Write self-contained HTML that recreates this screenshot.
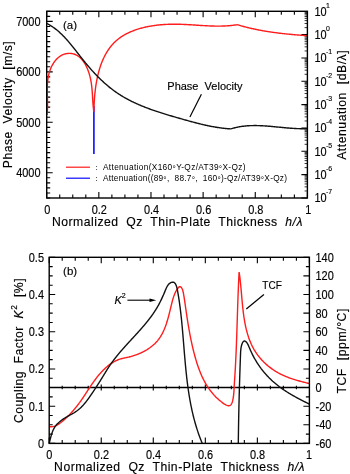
<!DOCTYPE html>
<html><head><meta charset="utf-8"><style>
html,body{margin:0;padding:0;background:#fff;width:350px;height:474px;overflow:hidden}
svg{display:block;will-change:transform}
text{font-family:"Liberation Sans", sans-serif;fill:#000;stroke:#000;stroke-width:0.15px}
</style></head><body>
<svg width="350" height="474" viewBox="0 0 350 474">
<rect width="350" height="474" fill="#fff"/>
<path d="M46.70 198.00L46.70 192.00M46.70 11.30L46.70 17.30M59.73 198.00L59.73 194.50M59.73 11.30L59.73 14.80M72.77 198.00L72.77 194.50M72.77 11.30L72.77 14.80M85.81 198.00L85.81 194.50M85.81 11.30L85.81 14.80M98.84 198.00L98.84 192.00M98.84 11.30L98.84 17.30M111.88 198.00L111.88 194.50M111.88 11.30L111.88 14.80M124.91 198.00L124.91 194.50M124.91 11.30L124.91 14.80M137.94 198.00L137.94 194.50M137.94 11.30L137.94 14.80M150.98 198.00L150.98 192.00M150.98 11.30L150.98 17.30M164.01 198.00L164.01 194.50M164.01 11.30L164.01 14.80M177.05 198.00L177.05 194.50M177.05 11.30L177.05 14.80M190.09 198.00L190.09 194.50M190.09 11.30L190.09 14.80M203.12 198.00L203.12 192.00M203.12 11.30L203.12 17.30M216.16 198.00L216.16 194.50M216.16 11.30L216.16 14.80M229.19 198.00L229.19 194.50M229.19 11.30L229.19 14.80M242.22 198.00L242.22 194.50M242.22 11.30L242.22 14.80M255.26 198.00L255.26 192.00M255.26 11.30L255.26 17.30M268.30 198.00L268.30 194.50M268.30 11.30L268.30 14.80M281.33 198.00L281.33 194.50M281.33 11.30L281.33 14.80M294.37 198.00L294.37 194.50M294.37 11.30L294.37 14.80M307.40 198.00L307.40 192.00M307.40 11.30L307.40 17.30M46.70 198.00L50.20 198.00M46.70 192.95L50.20 192.95M46.70 187.91L50.20 187.91M46.70 182.86L50.20 182.86M46.70 177.82L50.20 177.82M46.70 172.77L52.70 172.77M46.70 167.72L50.20 167.72M46.70 162.68L50.20 162.68M46.70 157.63L50.20 157.63M46.70 152.59L50.20 152.59M46.70 147.54L50.20 147.54M46.70 142.49L50.20 142.49M46.70 137.45L50.20 137.45M46.70 132.40L50.20 132.40M46.70 127.36L50.20 127.36M46.70 122.31L52.70 122.31M46.70 117.26L50.20 117.26M46.70 112.22L50.20 112.22M46.70 107.17L50.20 107.17M46.70 102.13L50.20 102.13M46.70 97.08L50.20 97.08M46.70 92.04L50.20 92.04M46.70 86.99L50.20 86.99M46.70 81.94L50.20 81.94M46.70 76.90L50.20 76.90M46.70 71.85L52.70 71.85M46.70 66.81L50.20 66.81M46.70 61.76L50.20 61.76M46.70 56.71L50.20 56.71M46.70 51.67L50.20 51.67M46.70 46.62L50.20 46.62M46.70 41.58L50.20 41.58M46.70 36.53L50.20 36.53M46.70 31.48L50.20 31.48M46.70 26.44L50.20 26.44M46.70 21.39L52.70 21.39M46.70 16.35L50.20 16.35M46.70 11.30L50.20 11.30M307.40 198.00L301.40 198.00M307.40 174.66L301.40 174.66M307.40 151.32L301.40 151.32M307.40 127.99L301.40 127.99M307.40 104.65L301.40 104.65M307.40 81.31L301.40 81.31M307.40 57.98L301.40 57.98M307.40 34.64L301.40 34.64" stroke="#000" stroke-width="1.1" fill="none"/>
<path d="M307.40 190.97L304.60 190.97M307.40 186.87L304.60 186.87M307.40 183.95L304.60 183.95M307.40 181.69L304.60 181.69M307.40 179.84L304.60 179.84M307.40 178.28L304.60 178.28M307.40 176.92L304.60 176.92M307.40 175.73L304.60 175.73M307.40 167.64L304.60 167.64M307.40 163.53L304.60 163.53M307.40 160.61L304.60 160.61M307.40 158.35L304.60 158.35M307.40 156.50L304.60 156.50M307.40 154.94L304.60 154.94M307.40 153.59L304.60 153.59M307.40 152.39L304.60 152.39M307.40 144.30L304.60 144.30M307.40 140.19L304.60 140.19M307.40 137.27L304.60 137.27M307.40 135.01L304.60 135.01M307.40 133.16L304.60 133.16M307.40 131.60L304.60 131.60M307.40 130.25L304.60 130.25M307.40 129.06L304.60 129.06M307.40 120.96L304.60 120.96M307.40 116.85L304.60 116.85M307.40 113.94L304.60 113.94M307.40 111.68L304.60 111.68M307.40 109.83L304.60 109.83M307.40 108.27L304.60 108.27M307.40 106.91L304.60 106.91M307.40 105.72L304.60 105.72M307.40 97.62L304.60 97.62M307.40 93.52L304.60 93.52M307.40 90.60L304.60 90.60M307.40 88.34L304.60 88.34M307.40 86.49L304.60 86.49M307.40 84.93L304.60 84.93M307.40 83.57L304.60 83.57M307.40 82.38L304.60 82.38M307.40 74.29L304.60 74.29M307.40 70.18L304.60 70.18M307.40 67.26L304.60 67.26M307.40 65.00L304.60 65.00M307.40 63.15L304.60 63.15M307.40 61.59L304.60 61.59M307.40 60.24L304.60 60.24M307.40 59.04L304.60 59.04M307.40 50.95L304.60 50.95M307.40 46.84L304.60 46.84M307.40 43.92L304.60 43.92M307.40 41.66L304.60 41.66M307.40 39.81L304.60 39.81M307.40 38.25L304.60 38.25M307.40 36.90L304.60 36.90M307.40 35.71L304.60 35.71M307.40 27.61L304.60 27.61M307.40 23.50L304.60 23.50M307.40 20.59L304.60 20.59M307.40 18.33L304.60 18.33M307.40 16.48L304.60 16.48M307.40 14.92L304.60 14.92M307.40 13.56L304.60 13.56M307.40 12.37L304.60 12.37" stroke="#000" stroke-width="0.8" fill="none"/>
<path d="M93.9 106 L93.9 154" stroke="#0a0aff" stroke-width="1.6" fill="none"/>
<path d="M46.90 115.00 L47.01 114.24 L47.10 113.49 L47.18 112.72 L47.26 111.95 L47.32 111.18 L47.37 110.41 L47.42 109.63 L47.45 108.84 L47.48 108.05 L47.50 107.26 L47.52 106.47 L47.52 105.67 L47.53 104.87 L47.53 104.06 L47.52 103.26 L47.51 102.45 L47.49 101.64 L47.48 100.82 L47.46 100.01 L47.44 99.19 L47.42 98.37 L47.39 97.55 L47.37 96.72 L47.35 95.90 L47.33 95.07 L47.31 94.24 L47.29 93.41 L47.28 92.59 L47.27 91.76 L47.26 90.93 L47.26 90.09 L47.26 89.26 L47.27 88.43 L47.28 87.60 L47.30 86.77 L47.33 85.94 L47.37 85.11 L47.41 84.28 L47.47 83.45 L47.53 82.63 L47.60 81.80 L47.68 80.98 L47.78 80.15 L47.88 79.33 L48.00 78.51 L48.13 77.69 L48.27 76.88 L48.43 76.06 L48.60 75.25 L48.79 74.44 L48.99 73.63 L49.21 72.83 L49.45 72.03 L49.70 71.23 L49.97 70.44 L50.26 69.65 L50.56 68.86 L50.89 68.08 L51.23 67.31 L51.59 66.55 L51.96 65.79 L52.36 65.05 L52.77 64.32 L53.20 63.60 L53.64 62.90 L54.10 62.22 L54.58 61.55 L55.08 60.90 L55.59 60.27 L56.12 59.66 L56.66 59.07 L57.22 58.51 L57.80 57.97 L58.39 57.45 L59.00 56.97 L59.62 56.51 L60.26 56.08 L60.92 55.68 L61.58 55.32 L62.27 54.98 L62.96 54.68 L63.66 54.41 L64.38 54.17 L65.10 53.96 L65.83 53.79 L66.56 53.64 L67.29 53.53 L68.03 53.46 L68.77 53.41 L69.51 53.40 L70.24 53.42 L70.97 53.47 L71.70 53.56 L72.42 53.68 L73.13 53.84 L73.84 54.02 L74.53 54.24 L75.21 54.50 L75.88 54.79 L76.53 55.11 L77.17 55.46 L77.79 55.85 L78.40 56.27 L79.00 56.71 L79.58 57.19 L80.14 57.69 L80.70 58.22 L81.23 58.77 L81.76 59.35 L82.27 59.95 L82.76 60.57 L83.24 61.21 L83.71 61.87 L84.16 62.55 L84.60 63.25 L85.03 63.96 L85.44 64.69 L85.84 65.43 L86.22 66.19 L86.59 66.96 L86.95 67.73 L87.30 68.52 L87.63 69.32 L87.95 70.12 L88.25 70.93 L88.54 71.75 L88.82 72.57 L89.08 73.39 L89.34 74.21 L89.57 75.04 L89.80 75.86 L90.01 76.69 L90.21 77.51 L90.40 78.33 L90.58 79.15 L90.75 79.96 L90.90 80.78 L91.05 81.59 L91.18 82.40 L91.31 83.21 L91.43 84.02 L91.54 84.83 L91.64 85.64 L91.73 86.45 L91.82 87.25 L91.90 88.05 L91.98 88.86 L92.05 89.66 L92.12 90.46 L92.18 91.26 L92.24 92.06 L92.29 92.86 L92.34 93.66 L92.39 94.45 L92.44 95.25 L92.49 96.05 L92.53 96.85 L92.58 97.64 L92.62 98.44 L92.67 99.23 L92.72 100.03 L92.77 100.83 L92.82 101.62 L92.87 102.42 L92.93 103.21 L92.99 104.01 L93.06 104.81 L93.12 105.60 L93.20 106.40 L93.28 107.20 L93.36 108.00 L93.46 108.80 L93.56 109.60 L93.66 110.40 L93.78 111.20 L93.90 112.00 M93.91 112.00 L93.92 111.24 L93.94 110.47 L93.95 109.70 L93.97 108.93 L93.99 108.16 L94.02 107.38 L94.04 106.60 L94.07 105.81 L94.10 105.02 L94.14 104.23 L94.18 103.44 L94.22 102.64 L94.26 101.84 L94.31 101.04 L94.36 100.23 L94.41 99.43 L94.46 98.62 L94.52 97.81 L94.59 97.00 L94.65 96.19 L94.72 95.37 L94.80 94.56 L94.88 93.74 L94.96 92.92 L95.04 92.11 L95.13 91.29 L95.23 90.47 L95.33 89.65 L95.43 88.83 L95.54 88.01 L95.65 87.19 L95.76 86.37 L95.88 85.55 L96.01 84.73 L96.14 83.91 L96.27 83.09 L96.41 82.28 L96.56 81.46 L96.71 80.65 L96.86 79.83 L97.02 79.02 L97.19 78.21 L97.36 77.40 L97.54 76.60 L97.72 75.79 L97.91 74.99 L98.10 74.19 L98.30 73.39 L98.50 72.60 L98.71 71.81 L98.93 71.02 L99.15 70.23 L99.38 69.45 L99.62 68.67 L99.86 67.89 L100.11 67.12 L100.36 66.35 L100.63 65.58 L100.89 64.82 L101.17 64.06 L101.45 63.31 L101.74 62.56 L102.03 61.82 L102.34 61.08 L102.65 60.34 L102.96 59.61 L103.29 58.89 L103.62 58.17 L103.96 57.45 L104.31 56.75 L104.66 56.04 L105.02 55.35 L105.39 54.65 L105.77 53.97 L106.15 53.29 L106.55 52.62 L106.95 51.95 L107.36 51.29 L107.78 50.64 L108.20 49.99 L108.64 49.36 L109.08 48.72 L109.53 48.10 L109.99 47.48 L110.46 46.87 L110.94 46.27 L111.43 45.68 L111.92 45.10 L112.43 44.52 L112.94 43.95 L113.46 43.39 L114.00 42.84 L114.54 42.30 L115.09 41.76 L115.65 41.24 L116.22 40.72 L116.80 40.21 L117.39 39.72 L117.99 39.23 L118.60 38.75 L119.22 38.28 L119.84 37.82 L120.48 37.37 L121.13 36.93 L121.78 36.50 L122.44 36.08 L123.11 35.67 L123.79 35.26 L124.47 34.87 L125.16 34.48 L125.86 34.10 L126.57 33.73 L127.28 33.37 L128.00 33.02 L128.73 32.67 L129.46 32.34 L130.19 32.01 L130.93 31.69 L131.68 31.38 L132.43 31.07 L133.19 30.78 L133.95 30.49 L134.72 30.21 L135.49 29.93 L136.26 29.67 L137.04 29.41 L137.82 29.16 L138.60 28.92 L139.39 28.68 L140.18 28.45 L140.97 28.23 L141.76 28.01 L142.56 27.81 L143.35 27.61 L144.15 27.41 L144.95 27.22 L145.76 27.04 L146.56 26.87 L147.36 26.70 L148.17 26.54 L148.98 26.38 L149.79 26.23 L150.60 26.09 L151.41 25.95 L152.22 25.82 L153.03 25.70 L153.85 25.58 L154.66 25.47 L155.48 25.36 L156.29 25.25 L157.11 25.16 L157.93 25.07 L158.74 24.98 L159.56 24.90 L160.38 24.82 L161.20 24.75 L162.02 24.68 L162.84 24.62 L163.65 24.56 L164.47 24.51 L165.29 24.46 L166.11 24.42 L166.93 24.38 L167.75 24.35 L168.57 24.32 L169.38 24.29 L170.20 24.27 L171.02 24.25 L171.84 24.24 L172.65 24.23 L173.47 24.22 L174.28 24.22 L175.09 24.22 L175.91 24.22 L176.72 24.23 L177.53 24.24 L178.34 24.26 L179.14 24.27 L179.95 24.29 L180.76 24.32 L181.56 24.34 L182.37 24.37 L183.17 24.40 L183.97 24.44 L184.77 24.47 L185.57 24.51 L186.37 24.55 L187.17 24.59 L187.96 24.64 L188.76 24.68 L189.56 24.73 L190.35 24.77 L191.14 24.82 L191.94 24.87 L192.73 24.92 L193.52 24.97 L194.32 25.02 L195.11 25.07 L195.90 25.13 L196.69 25.18 L197.48 25.23 L198.27 25.28 L199.06 25.33 L199.85 25.38 L200.64 25.43 L201.43 25.48 L202.21 25.53 L203.00 25.58 L203.79 25.63 L204.58 25.67 L205.37 25.72 L206.16 25.76 L206.94 25.80 L207.73 25.84 L208.52 25.87 L209.31 25.91 L210.10 25.94 L210.89 25.97 L211.68 26.00 L212.47 26.02 L213.26 26.05 L214.05 26.06 L214.84 26.08 L215.63 26.09 L216.42 26.10 L217.22 26.11 L218.01 26.11 L218.80 26.11 L219.60 26.10 L220.39 26.09 L221.19 26.08 L221.98 26.06 L222.78 26.04 L223.58 26.01 L224.38 25.98 L225.18 25.94 L225.98 25.90 L226.78 25.85 L227.58 25.80 L228.38 25.74 L229.19 25.68 L229.99 25.61 L230.80 25.53 L231.61 25.45 L232.42 25.36 L233.23 25.27 L234.04 25.17 L234.85 25.06 L235.67 24.95 L236.48 24.83 L237.30 24.70 M237.30 24.70 L238.08 24.94 L238.86 25.17 L239.65 25.40 L240.43 25.62 L241.22 25.85 L242.00 26.07 L242.79 26.28 L243.58 26.50 L244.36 26.71 L245.15 26.91 L245.94 27.11 L246.73 27.31 L247.52 27.51 L248.31 27.70 L249.11 27.90 L249.90 28.08 L250.69 28.27 L251.49 28.45 L252.28 28.63 L253.08 28.80 L253.87 28.98 L254.67 29.15 L255.47 29.31 L256.26 29.48 L257.06 29.64 L257.86 29.80 L258.66 29.95 L259.46 30.11 L260.26 30.26 L261.06 30.41 L261.86 30.55 L262.67 30.70 L263.47 30.84 L264.27 30.98 L265.07 31.11 L265.88 31.25 L266.68 31.38 L267.49 31.51 L268.29 31.63 L269.10 31.76 L269.90 31.88 L270.71 32.00 L271.52 32.12 L272.32 32.24 L273.13 32.35 L273.94 32.46 L274.75 32.57 L275.56 32.68 L276.36 32.78 L277.17 32.89 L277.98 32.99 L278.79 33.09 L279.60 33.19 L280.41 33.29 L281.22 33.38 L282.03 33.47 L282.84 33.57 L283.65 33.66 L284.46 33.74 L285.28 33.83 L286.09 33.92 L286.90 34.00 L287.71 34.08 L288.52 34.16 L289.33 34.24 L290.15 34.32 L290.96 34.40 L291.77 34.47 L292.58 34.55 L293.39 34.62 L294.21 34.69 L295.02 34.76 L295.83 34.83 L296.64 34.90 L297.46 34.97 L298.27 35.03 L299.08 35.10 L299.89 35.16 L300.70 35.22 L301.52 35.29 L302.33 35.35 L303.14 35.41 L303.95 35.47 L304.77 35.53 L305.58 35.59 L306.39 35.64 L307.20 35.70" stroke="#ff1c1c" stroke-width="1.4" fill="none"/>
<path d="M46.71 23.38 L47.42 23.75 L48.12 24.12 L48.81 24.51 L49.50 24.90 L50.18 25.30 L50.85 25.72 L51.51 26.14 L52.17 26.57 L52.82 27.01 L53.46 27.46 L54.10 27.91 L54.73 28.38 L55.36 28.85 L55.97 29.33 L56.59 29.82 L57.20 30.31 L57.80 30.82 L58.39 31.33 L58.99 31.84 L59.57 32.37 L60.15 32.90 L60.73 33.43 L61.30 33.97 L61.87 34.52 L62.43 35.08 L62.99 35.64 L63.55 36.20 L64.10 36.77 L64.65 37.35 L65.19 37.93 L65.73 38.51 L66.27 39.10 L66.80 39.70 L67.33 40.30 L67.86 40.90 L68.38 41.51 L68.90 42.12 L69.42 42.73 L69.94 43.35 L70.46 43.96 L70.97 44.59 L71.48 45.21 L71.99 45.84 L72.50 46.47 L73.01 47.10 L73.51 47.74 L74.02 48.37 L74.52 49.01 L75.02 49.65 L75.53 50.29 L76.03 50.93 L76.53 51.57 L77.03 52.21 L77.53 52.86 L78.03 53.50 L78.53 54.14 L79.03 54.79 L79.54 55.43 L80.04 56.07 L80.54 56.72 L81.04 57.36 L81.55 58.00 L82.06 58.64 L82.56 59.28 L83.07 59.91 L83.58 60.55 L84.10 61.18 L84.61 61.81 L85.13 62.44 L85.64 63.07 L86.16 63.70 L86.68 64.32 L87.21 64.94 L87.73 65.56 L88.26 66.18 L88.78 66.80 L89.31 67.41 L89.85 68.02 L90.38 68.63 L90.92 69.24 L91.45 69.84 L91.99 70.45 L92.54 71.04 L93.08 71.64 L93.63 72.24 L94.17 72.83 L94.72 73.42 L95.28 74.00 L95.83 74.59 L96.39 75.17 L96.95 75.74 L97.51 76.32 L98.07 76.89 L98.64 77.46 L99.21 78.02 L99.78 78.58 L100.35 79.14 L100.93 79.70 L101.51 80.25 L102.09 80.80 L102.68 81.34 L103.26 81.88 L103.85 82.42 L104.44 82.96 L105.04 83.49 L105.64 84.01 L106.24 84.53 L106.84 85.05 L107.45 85.57 L108.05 86.08 L108.67 86.59 L109.28 87.09 L109.90 87.59 L110.52 88.08 L111.14 88.57 L111.77 89.06 L112.40 89.54 L113.03 90.02 L113.67 90.49 L114.31 90.96 L114.95 91.42 L115.59 91.88 L116.24 92.33 L116.89 92.78 L117.55 93.23 L118.21 93.67 L118.87 94.10 L119.53 94.53 L120.20 94.96 L120.87 95.38 L121.55 95.79 L122.23 96.21 L122.91 96.61 L123.59 97.02 L124.28 97.41 L124.97 97.81 L125.66 98.20 L126.35 98.58 L127.05 98.96 L127.75 99.34 L128.46 99.72 L129.16 100.08 L129.87 100.45 L130.58 100.81 L131.29 101.17 L132.01 101.52 L132.73 101.87 L133.45 102.22 L134.17 102.56 L134.90 102.90 L135.62 103.24 L136.35 103.57 L137.08 103.90 L137.82 104.22 L138.55 104.54 L139.29 104.86 L140.03 105.18 L140.77 105.49 L141.52 105.80 L142.26 106.11 L143.01 106.41 L143.76 106.71 L144.51 107.01 L145.26 107.30 L146.01 107.59 L146.77 107.88 L147.52 108.17 L148.28 108.45 L149.04 108.73 L149.80 109.01 L150.56 109.29 L151.32 109.56 L152.09 109.83 L152.85 110.10 L153.62 110.37 L154.39 110.63 L155.16 110.90 L155.93 111.16 L156.70 111.42 L157.47 111.67 L158.24 111.93 L159.02 112.18 L159.79 112.43 L160.56 112.68 L161.34 112.93 L162.12 113.17 L162.89 113.42 L163.67 113.66 L164.45 113.90 L165.23 114.14 L166.00 114.38 L166.78 114.61 L167.56 114.85 L168.34 115.08 L169.12 115.31 L169.90 115.55 L170.68 115.78 L171.46 116.01 L172.24 116.23 L173.02 116.46 L173.80 116.69 L174.58 116.91 L175.36 117.14 L176.14 117.36 L176.92 117.59 L177.70 117.81 L178.48 118.03 L179.26 118.26 L180.03 118.48 L180.81 118.70 L181.59 118.92 L182.37 119.14 L183.14 119.36 L183.92 119.58 L184.69 119.80 L185.47 120.02 L186.24 120.23 L187.02 120.45 L187.79 120.67 L188.56 120.88 L189.34 121.09 L190.11 121.31 L190.89 121.52 L191.66 121.73 L192.43 121.94 L193.21 122.14 L193.98 122.35 L194.75 122.55 L195.53 122.76 L196.30 122.96 L197.07 123.16 L197.85 123.35 L198.62 123.55 L199.40 123.74 L200.17 123.93 L200.95 124.12 L201.72 124.31 L202.50 124.49 L203.27 124.67 L204.05 124.85 L204.83 125.03 L205.61 125.20 L206.38 125.37 L207.16 125.54 L207.94 125.71 L208.72 125.87 L209.50 126.03 L210.29 126.19 L211.07 126.34 L211.85 126.49 L212.64 126.63 L213.42 126.78 L214.21 126.92 L215.00 127.05 L215.78 127.19 L216.57 127.31 L217.36 127.44 L218.16 127.56 L218.95 127.68 L219.74 127.79 L220.54 127.90 L221.33 128.00 L222.13 128.10 L222.93 128.20 L223.73 128.29 L224.53 128.38 L225.33 128.46 L226.14 128.54 L226.94 128.61 L227.75 128.68 L228.56 128.74 L229.37 128.80 L230.18 128.85 L231.00 128.90 M231.00 128.90 L231.77 128.66 L232.54 128.42 L233.31 128.20 L234.09 127.99 L234.86 127.79 L235.64 127.60 L236.42 127.42 L237.20 127.24 L237.98 127.08 L238.76 126.93 L239.55 126.79 L240.33 126.65 L241.12 126.53 L241.91 126.41 L242.70 126.30 L243.49 126.20 L244.28 126.11 L245.07 126.02 L245.87 125.95 L246.66 125.88 L247.46 125.82 L248.25 125.76 L249.05 125.72 L249.85 125.67 L250.65 125.64 L251.45 125.61 L252.25 125.59 L253.05 125.58 L253.86 125.57 L254.66 125.56 L255.46 125.56 L256.27 125.57 L257.07 125.58 L257.88 125.60 L258.69 125.62 L259.50 125.65 L260.30 125.68 L261.11 125.71 L261.92 125.75 L262.73 125.79 L263.54 125.84 L264.35 125.89 L265.17 125.94 L265.98 126.00 L266.79 126.06 L267.60 126.12 L268.41 126.18 L269.23 126.25 L270.04 126.32 L270.85 126.39 L271.67 126.46 L272.48 126.54 L273.29 126.61 L274.11 126.69 L274.92 126.77 L275.74 126.85 L276.55 126.93 L277.36 127.00 L278.18 127.08 L278.99 127.16 L279.81 127.24 L280.62 127.32 L281.43 127.40 L282.25 127.48 L283.06 127.56 L283.87 127.64 L284.68 127.71 L285.50 127.79 L286.31 127.86 L287.12 127.93 L287.93 128.00 L288.74 128.07 L289.55 128.13 L290.36 128.19 L291.17 128.25 L291.98 128.31 L292.79 128.36 L293.59 128.41 L294.40 128.46 L295.21 128.51 L296.01 128.55 L296.82 128.58 L297.62 128.61 L298.42 128.64 L299.23 128.66 L300.03 128.68 L300.83 128.69 L301.63 128.70 L302.43 128.70 L303.23 128.70 L304.02 128.69 L304.82 128.68 L305.61 128.66 L306.41 128.63 L307.20 128.60" stroke="#111" stroke-width="1.4" fill="none"/>
<rect x="46.70" y="11.30" width="260.70" height="186.70" stroke="#000" stroke-width="1.4" fill="none"/>
<path d="M201.4 94.3 L189.9 117" stroke="#000" stroke-width="1.2"/>
<path d="M66 167.2H90" stroke="#ff1c1c" stroke-width="1.2"/>
<path d="M66 178.2H90" stroke="#0a0aff" stroke-width="1.2"/>
<text transform="translate(40.50 177.17) scale(0.890 1)" font-size="12.3" text-anchor="end">4000</text>
<text transform="translate(40.50 126.71) scale(0.890 1)" font-size="12.3" text-anchor="end">5000</text>
<text transform="translate(40.50 76.25) scale(0.890 1)" font-size="12.3" text-anchor="end">6000</text>
<text transform="translate(40.50 25.79) scale(0.890 1)" font-size="12.3" text-anchor="end">7000</text>
<text transform="translate(47.20 213.50) scale(0.890 1)" font-size="12.3" text-anchor="middle">0</text>
<text transform="translate(99.34 213.50) scale(0.890 1)" font-size="12.3" text-anchor="middle">0.2</text>
<text transform="translate(151.48 213.50) scale(0.890 1)" font-size="12.3" text-anchor="middle">0.4</text>
<text transform="translate(203.62 213.50) scale(0.890 1)" font-size="12.3" text-anchor="middle">0.6</text>
<text transform="translate(255.76 213.50) scale(0.890 1)" font-size="12.3" text-anchor="middle">0.8</text>
<text transform="translate(308.40 213.50) scale(0.890 1)" font-size="12.3" text-anchor="middle">1</text>
<text transform="translate(314.50 15.70) scale(0.890 1)" font-size="12.3" text-anchor="start">10</text>
<text transform="translate(326.00 7.70) scale(0.890 1)" font-size="7.8" text-anchor="start">1</text>
<text transform="translate(314.50 39.04) scale(0.890 1)" font-size="12.3" text-anchor="start">10</text>
<text transform="translate(326.00 31.04) scale(0.890 1)" font-size="7.8" text-anchor="start">0</text>
<text transform="translate(314.50 62.37) scale(0.890 1)" font-size="12.3" text-anchor="start">10</text>
<text transform="translate(326.00 54.37) scale(0.890 1)" font-size="7.8" text-anchor="start">-1</text>
<text transform="translate(314.50 85.71) scale(0.890 1)" font-size="12.3" text-anchor="start">10</text>
<text transform="translate(326.00 77.71) scale(0.890 1)" font-size="7.8" text-anchor="start">-2</text>
<text transform="translate(314.50 109.05) scale(0.890 1)" font-size="12.3" text-anchor="start">10</text>
<text transform="translate(326.00 101.05) scale(0.890 1)" font-size="7.8" text-anchor="start">-3</text>
<text transform="translate(314.50 132.39) scale(0.890 1)" font-size="12.3" text-anchor="start">10</text>
<text transform="translate(326.00 124.39) scale(0.890 1)" font-size="7.8" text-anchor="start">-4</text>
<text transform="translate(314.50 155.72) scale(0.890 1)" font-size="12.3" text-anchor="start">10</text>
<text transform="translate(326.00 147.72) scale(0.890 1)" font-size="7.8" text-anchor="start">-5</text>
<text transform="translate(314.50 179.06) scale(0.890 1)" font-size="12.3" text-anchor="start">10</text>
<text transform="translate(326.00 171.06) scale(0.890 1)" font-size="7.8" text-anchor="start">-6</text>
<text transform="translate(314.50 202.40) scale(0.890 1)" font-size="12.3" text-anchor="start">10</text>
<text transform="translate(326.00 194.40) scale(0.890 1)" font-size="7.8" text-anchor="start">-7</text>
<text transform="translate(12.00 104.75) rotate(-90)" font-size="12.2" text-anchor="middle" textLength="127.00" lengthAdjust="spacing">Phase&#160; Velocity&#160; [m/s]</text>
<text transform="translate(346.00 105.10) rotate(-90)" font-size="12.2" text-anchor="middle" textLength="109.50" lengthAdjust="spacing">Attenuation&#160; [dB/&#955;]</text>
<text transform="translate(52.00 225.90)" font-size="12.2" text-anchor="start" textLength="250.50" lengthAdjust="spacing">Normalized&#160; Qz&#160; Thin-Plate&#160; Thickness&#160; <tspan font-style="italic">h/&#955;</tspan></text>
<text transform="translate(63.00 28.60)" font-size="11.5" text-anchor="start">(a)</text>
<text transform="translate(167.30 89.50)" font-size="11" text-anchor="start">Phase&#160; Velocity</text>
<text transform="translate(95.60 170.20)" font-size="8" text-anchor="start">:</text>
<text x="103" y="170.2" font-size="8.3" textLength="142.5" lengthAdjust="spacing" style="stroke-width:0">Attenuation(X160<tspan dy="2.2">&#176;</tspan><tspan dy="-2.2">Y-Qz/AT39</tspan><tspan dy="2.2">&#176;</tspan><tspan dy="-2.2">X-Qz)</tspan></text>
<text transform="translate(95.60 181.20)" font-size="8" text-anchor="start">:</text>
<text x="103" y="181.2" font-size="8.3" textLength="184" lengthAdjust="spacing" style="stroke-width:0">Attenuation((89<tspan dy="2.2">&#176;</tspan><tspan dy="-2.2">,&#160; 88.7</tspan><tspan dy="2.2">&#176;</tspan><tspan dy="-2.2">,&#160; 160</tspan><tspan dy="2.2">&#176;</tspan><tspan dy="-2.2">)-Qz/AT39</tspan><tspan dy="2.2">&#176;</tspan><tspan dy="-2.2">X-Qz)</tspan></text>
<path d="M49.20 443.40L49.20 437.40M49.20 257.30L49.20 263.30M62.21 443.40L62.21 439.90M62.21 257.30L62.21 260.80M62.21 385.77L62.21 389.37M75.22 443.40L75.22 439.90M75.22 257.30L75.22 260.80M75.22 385.77L75.22 389.37M88.23 443.40L88.23 439.90M88.23 257.30L88.23 260.80M88.23 385.77L88.23 389.37M101.24 443.40L101.24 437.40M101.24 257.30L101.24 263.30M101.24 384.57L101.24 390.57M114.25 443.40L114.25 439.90M114.25 257.30L114.25 260.80M114.25 385.77L114.25 389.37M127.26 443.40L127.26 439.90M127.26 257.30L127.26 260.80M127.26 385.77L127.26 389.37M140.27 443.40L140.27 439.90M140.27 257.30L140.27 260.80M140.27 385.77L140.27 389.37M153.28 443.40L153.28 437.40M153.28 257.30L153.28 263.30M153.28 384.57L153.28 390.57M166.29 443.40L166.29 439.90M166.29 257.30L166.29 260.80M166.29 385.77L166.29 389.37M179.30 443.40L179.30 439.90M179.30 257.30L179.30 260.80M179.30 385.77L179.30 389.37M192.31 443.40L192.31 439.90M192.31 257.30L192.31 260.80M192.31 385.77L192.31 389.37M205.32 443.40L205.32 437.40M205.32 257.30L205.32 263.30M205.32 384.57L205.32 390.57M218.33 443.40L218.33 439.90M218.33 257.30L218.33 260.80M218.33 385.77L218.33 389.37M231.34 443.40L231.34 439.90M231.34 257.30L231.34 260.80M231.34 385.77L231.34 389.37M244.35 443.40L244.35 439.90M244.35 257.30L244.35 260.80M244.35 385.77L244.35 389.37M257.36 443.40L257.36 437.40M257.36 257.30L257.36 263.30M257.36 384.57L257.36 390.57M270.37 443.40L270.37 439.90M270.37 257.30L270.37 260.80M270.37 385.77L270.37 389.37M283.38 443.40L283.38 439.90M283.38 257.30L283.38 260.80M283.38 385.77L283.38 389.37M296.39 443.40L296.39 439.90M296.39 257.30L296.39 260.80M296.39 385.77L296.39 389.37M309.40 443.40L309.40 437.40M309.40 257.30L309.40 263.30M49.20 443.40L55.20 443.40M49.20 434.09L52.70 434.09M49.20 424.79L52.70 424.79M49.20 415.48L52.70 415.48M49.20 406.18L55.20 406.18M49.20 396.88L52.70 396.88M49.20 387.57L52.70 387.57M49.20 378.26L52.70 378.26M49.20 368.96L55.20 368.96M49.20 359.65L52.70 359.65M49.20 350.35L52.70 350.35M49.20 341.04L52.70 341.04M49.20 331.74L55.20 331.74M49.20 322.44L52.70 322.44M49.20 313.13L52.70 313.13M49.20 303.82L52.70 303.82M49.20 294.52L55.20 294.52M49.20 285.22L52.70 285.22M49.20 275.91L52.70 275.91M49.20 266.61L52.70 266.61M49.20 257.30L55.20 257.30M309.40 443.40L303.40 443.40M309.40 434.09L305.90 434.09M309.40 424.79L303.40 424.79M309.40 415.48L305.90 415.48M309.40 406.18L303.40 406.18M309.40 396.88L305.90 396.88M309.40 387.57L303.40 387.57M309.40 378.26L305.90 378.26M309.40 368.96L303.40 368.96M309.40 359.65L305.90 359.65M309.40 350.35L303.40 350.35M309.40 341.04L305.90 341.04M309.40 331.74L303.40 331.74M309.40 322.44L305.90 322.44M309.40 313.13L303.40 313.13M309.40 303.82L305.90 303.82M309.40 294.52L303.40 294.52M309.40 285.22L305.90 285.22M309.40 275.91L303.40 275.91M309.40 266.61L305.90 266.61M309.40 257.30L303.40 257.30" stroke="#000" stroke-width="1.1" fill="none"/>
<path d="M49.20 387.57H309.40" stroke="#000" stroke-width="1.4"/>
<path d="M49.20 426.70 L50.04 426.77 L50.87 426.79 L51.68 426.74 L52.47 426.65 L53.24 426.51 L54.00 426.32 L54.75 426.09 L55.48 425.82 L56.19 425.51 L56.89 425.17 L57.59 424.80 L58.27 424.39 L58.94 423.96 L59.59 423.51 L60.25 423.04 L60.89 422.55 L61.52 422.04 L62.15 421.52 L62.77 421.00 L63.39 420.46 L64.00 419.92 L64.61 419.38 L65.21 418.83 L65.80 418.28 L66.39 417.72 L66.98 417.16 L67.56 416.60 L68.14 416.03 L68.71 415.45 L69.27 414.87 L69.84 414.29 L70.39 413.70 L70.95 413.11 L71.49 412.52 L72.03 411.92 L72.57 411.32 L73.10 410.71 L73.63 410.11 L74.16 409.49 L74.67 408.88 L75.19 408.26 L75.70 407.64 L76.20 407.01 L76.70 406.39 L77.20 405.76 L77.69 405.12 L78.17 404.49 L78.66 403.85 L79.13 403.21 L79.61 402.57 L80.07 401.92 L80.54 401.27 L81.00 400.63 L81.45 399.97 L81.90 399.32 L82.35 398.67 L82.80 398.01 L83.24 397.35 L83.68 396.69 L84.12 396.03 L84.56 395.37 L84.99 394.71 L85.43 394.05 L85.86 393.39 L86.29 392.72 L86.73 392.06 L87.16 391.40 L87.59 390.73 L88.02 390.07 L88.45 389.41 L88.89 388.75 L89.32 388.08 L89.76 387.42 L90.19 386.76 L90.63 386.10 L91.07 385.44 L91.52 384.79 L91.97 384.13 L92.42 383.48 L92.87 382.83 L93.33 382.18 L93.79 381.53 L94.25 380.88 L94.72 380.24 L95.20 379.60 L95.68 378.96 L96.16 378.32 L96.65 377.69 L97.15 377.06 L97.65 376.43 L98.16 375.80 L98.67 375.18 L99.20 374.56 L99.72 373.95 L100.26 373.34 L100.81 372.73 L101.36 372.13 L101.92 371.53 L102.49 370.94 L103.07 370.35 L103.65 369.77 L104.25 369.19 L104.85 368.62 L105.46 368.06 L106.08 367.51 L106.70 366.96 L107.33 366.43 L107.97 365.90 L108.62 365.39 L109.28 364.89 L109.94 364.40 L110.61 363.92 L111.28 363.45 L111.96 363.00 L112.65 362.57 L113.35 362.15 L114.05 361.75 L114.75 361.36 L115.47 360.99 L116.18 360.64 L116.91 360.31 L117.64 359.99 L118.37 359.70 L119.11 359.43 L119.86 359.17 L120.61 358.94 L121.37 358.73 L122.13 358.53 L122.89 358.34 L123.66 358.17 L124.42 358.00 L125.19 357.83 L125.97 357.66 L126.74 357.50 L127.52 357.33 L128.29 357.15 L129.07 356.97 L129.84 356.77 L130.61 356.57 L131.39 356.35 L132.16 356.13 L132.93 355.90 L133.70 355.66 L134.46 355.41 L135.23 355.15 L135.99 354.88 L136.74 354.61 L137.50 354.32 L138.25 354.02 L139.00 353.72 L139.74 353.40 L140.48 353.08 L141.21 352.75 L141.94 352.40 L142.66 352.05 L143.38 351.69 L144.09 351.31 L144.79 350.93 L145.49 350.54 L146.18 350.14 L146.87 349.73 L147.54 349.30 L148.21 348.87 L148.87 348.43 L149.53 347.98 L150.17 347.52 L150.80 347.05 L151.43 346.56 L152.05 346.07 L152.65 345.57 L153.25 345.06 L153.83 344.53 L154.41 344.00 L154.97 343.46 L155.52 342.90 L156.07 342.34 L156.59 341.76 L157.11 341.18 L157.62 340.58 L158.11 339.97 L158.59 339.36 L159.05 338.73 L159.51 338.09 L159.95 337.44 L160.38 336.79 L160.79 336.12 L161.20 335.44 L161.59 334.76 L161.98 334.07 L162.35 333.37 L162.72 332.66 L163.07 331.94 L163.41 331.22 L163.75 330.49 L164.08 329.75 L164.39 329.01 L164.70 328.26 L165.00 327.50 L165.30 326.74 L165.58 325.98 L165.86 325.21 L166.13 324.43 L166.40 323.65 L166.65 322.87 L166.91 322.08 L167.15 321.29 L167.39 320.49 L167.63 319.69 L167.86 318.89 L168.09 318.09 L168.31 317.28 L168.53 316.48 L168.74 315.67 L168.95 314.86 L169.16 314.05 L169.36 313.24 L169.57 312.43 L169.77 311.61 L169.96 310.80 L170.16 309.99 L170.35 309.18 L170.55 308.37 L170.74 307.56 L170.93 306.76 L171.13 305.95 L171.32 305.15 L171.51 304.35 L171.71 303.55 L171.90 302.76 L172.10 301.97 L172.31 301.18 L172.52 300.41 L172.73 299.63 L172.95 298.87 L173.18 298.11 L173.42 297.36 L173.67 296.61 L173.93 295.88 L174.20 295.15 L174.48 294.44 L174.77 293.73 L175.08 293.04 L175.40 292.35 L175.74 291.68 L176.09 291.02 L176.46 290.38 L176.85 289.75 L177.26 289.13 L177.68 288.53 L178.13 287.94 L178.60 287.38 L179.09 286.91 L179.60 286.64 L180.13 286.64 L180.65 286.86 L181.15 287.27 L181.60 287.82 L181.99 288.47 L182.34 289.21 L182.64 290.02 L182.90 290.89 L183.13 291.80 L183.33 292.73 L183.51 293.67 L183.67 294.61 L183.82 295.52 L183.97 296.41 L184.11 297.27 L184.24 298.12 L184.36 298.95 L184.48 299.76 L184.60 300.56 L184.72 301.35 L184.83 302.13 L184.94 302.91 L185.05 303.69 L185.17 304.47 L185.28 305.25 L185.39 306.03 L185.50 306.81 L185.61 307.59 L185.73 308.37 L185.84 309.15 L185.95 309.93 L186.07 310.71 L186.18 311.49 L186.30 312.28 L186.41 313.06 L186.53 313.84 L186.65 314.63 L186.76 315.41 L186.88 316.20 L187.00 316.98 L187.12 317.77 L187.24 318.55 L187.36 319.34 L187.49 320.13 L187.61 320.91 L187.74 321.70 L187.86 322.49 L187.99 323.27 L188.12 324.06 L188.25 324.85 L188.38 325.63 L188.51 326.42 L188.65 327.21 L188.78 328.00 L188.92 328.78 L189.06 329.57 L189.19 330.36 L189.34 331.15 L189.48 331.93 L189.62 332.72 L189.77 333.51 L189.92 334.30 L190.07 335.08 L190.22 335.87 L190.37 336.66 L190.52 337.44 L190.68 338.23 L190.84 339.02 L191.00 339.80 L191.16 340.59 L191.33 341.37 L191.50 342.16 L191.66 342.94 L191.84 343.73 L192.01 344.51 L192.19 345.30 L192.36 346.08 L192.54 346.87 L192.73 347.65 L192.91 348.43 L193.10 349.21 L193.29 349.99 L193.48 350.78 L193.68 351.56 L193.88 352.34 L194.08 353.12 L194.28 353.90 L194.49 354.67 L194.70 355.45 L194.91 356.23 L195.13 357.01 L195.34 357.78 L195.57 358.56 L195.79 359.33 L196.02 360.11 L196.25 360.88 L196.48 361.65 L196.72 362.42 L196.97 363.19 L197.21 363.95 L197.46 364.72 L197.72 365.48 L197.98 366.25 L198.24 367.01 L198.51 367.76 L198.78 368.52 L199.06 369.28 L199.34 370.03 L199.63 370.78 L199.92 371.52 L200.22 372.27 L200.52 373.01 L200.83 373.75 L201.14 374.49 L201.46 375.22 L201.79 375.95 L202.12 376.68 L202.46 377.40 L202.80 378.12 L203.15 378.84 L203.51 379.55 L203.87 380.26 L204.24 380.97 L204.62 381.67 L205.00 382.37 L205.39 383.06 L205.79 383.75 L206.19 384.44 L206.61 385.12 L207.03 385.80 L207.46 386.47 L207.89 387.14 L208.33 387.81 L208.79 388.46 L209.25 389.12 L209.71 389.77 L210.19 390.41 L210.67 391.05 L211.17 391.68 L211.67 392.31 L212.18 392.93 L212.70 393.55 L213.23 394.16 L213.77 394.77 L214.31 395.37 L214.87 395.96 L215.44 396.55 L216.01 397.13 L216.60 397.70 L217.19 398.27 L217.80 398.83 L218.42 399.39 L219.04 399.94 L219.68 400.48 L220.33 401.02 L220.98 401.55 L221.65 402.07 L222.33 402.58 L223.02 403.09 L223.72 403.57 L224.42 404.04 L225.12 404.46 L225.81 404.84 L226.49 405.17 L227.15 405.43 L227.80 405.62 L228.43 405.72 L229.02 405.72 L229.59 405.62 L230.12 405.41 L230.61 405.08 L231.05 404.61 L231.45 404.01 L231.81 403.30 L232.12 402.50 L232.40 401.63 L232.65 400.72 L232.86 399.77 L233.05 398.83 L233.21 397.89 L233.36 396.98 L233.48 396.11 L233.59 395.26 L233.68 394.43 L233.76 393.63 L233.83 392.84 L233.88 392.06 L233.93 391.30 L233.98 390.54 L234.02 389.79 L234.05 389.03 L234.09 388.28 L234.13 387.52 L234.17 386.75 L234.22 385.98 L234.26 385.20 L234.31 384.42 L234.36 383.63 L234.41 382.84 L234.46 382.04 L234.52 381.24 L234.57 380.44 L234.62 379.64 L234.68 378.83 L234.73 378.03 L234.78 377.22 L234.83 376.42 L234.89 375.61 L234.94 374.80 L234.99 374.00 L235.03 373.19 L235.08 372.39 L235.13 371.58 L235.18 370.78 L235.22 369.97 L235.27 369.17 L235.32 368.36 L235.36 367.56 L235.40 366.75 L235.45 365.95 L235.49 365.14 L235.53 364.34 L235.57 363.53 L235.61 362.73 L235.65 361.93 L235.69 361.12 L235.73 360.32 L235.77 359.51 L235.81 358.71 L235.85 357.91 L235.89 357.10 L235.92 356.30 L235.96 355.50 L236.00 354.69 L236.03 353.89 L236.07 353.09 L236.10 352.28 L236.13 351.48 L236.17 350.68 L236.20 349.88 L236.23 349.07 L236.27 348.27 L236.30 347.47 L236.33 346.67 L236.36 345.86 L236.39 345.06 L236.42 344.26 L236.45 343.46 L236.48 342.65 L236.51 341.85 L236.54 341.05 L236.57 340.25 L236.60 339.45 L236.63 338.65 L236.66 337.84 L236.69 337.04 L236.71 336.24 L236.74 335.44 L236.77 334.64 L236.80 333.84 L236.82 333.03 L236.85 332.23 L236.88 331.43 L236.90 330.63 L236.93 329.83 L236.96 329.03 L236.98 328.23 L237.01 327.43 L237.03 326.62 L237.06 325.82 L237.09 325.02 L237.11 324.22 L237.14 323.42 L237.16 322.62 L237.19 321.82 L237.21 321.02 L237.24 320.22 L237.26 319.41 L237.29 318.61 L237.32 317.81 L237.34 317.01 L237.37 316.21 L237.39 315.41 L237.42 314.61 L237.44 313.81 L237.47 313.01 L237.49 312.20 L237.52 311.40 L237.55 310.60 L237.57 309.80 L237.60 309.00 L237.62 308.20 L237.65 307.40 L237.68 306.60 L237.70 305.80 L237.73 304.99 L237.76 304.19 L237.78 303.39 L237.81 302.59 L237.84 301.79 L237.87 300.99 L237.90 300.19 L237.92 299.38 L237.95 298.58 L237.98 297.78 L238.01 296.98 L238.04 296.18 L238.07 295.38 L238.10 294.58 L238.13 293.77 L238.16 292.97 L238.19 292.17 L238.22 291.37 L238.25 290.57 L238.29 289.76 L238.32 288.96 L238.35 288.16 L238.38 287.36 L238.42 286.55 L238.45 285.75 L238.49 284.95 L238.52 284.15 L238.56 283.34 L238.59 282.54 L238.63 281.74 L238.66 280.94 L238.70 280.13 L238.74 279.33 L238.78 278.53 L238.81 277.72 L238.85 276.92 L238.89 276.12 L238.93 275.31 L238.97 274.51 L239.02 273.71 L239.06 272.90 L239.10 272.10 M239.10 272.10 L239.22 272.85 L239.33 273.60 L239.44 274.36 L239.55 275.12 L239.66 275.88 L239.76 276.64 L239.86 277.41 L239.95 278.18 L240.05 278.96 L240.14 279.74 L240.23 280.52 L240.31 281.30 L240.40 282.09 L240.48 282.88 L240.56 283.67 L240.64 284.46 L240.72 285.26 L240.80 286.06 L240.87 286.86 L240.95 287.66 L241.02 288.46 L241.09 289.27 L241.16 290.08 L241.24 290.89 L241.31 291.70 L241.38 292.51 L241.45 293.33 L241.52 294.14 L241.59 294.96 L241.66 295.78 L241.73 296.60 L241.80 297.42 L241.87 298.24 L241.94 299.06 L242.01 299.88 L242.09 300.71 L242.16 301.53 L242.24 302.35 L242.32 303.18 L242.39 304.00 L242.47 304.83 L242.56 305.65 L242.64 306.48 L242.73 307.30 L242.81 308.13 L242.90 308.95 L243.00 309.78 L243.09 310.60 L243.19 311.42 L243.29 312.25 L243.39 313.07 L243.50 313.89 L243.61 314.71 L243.72 315.53 L243.84 316.34 L243.96 317.16 L244.08 317.98 L244.21 318.79 L244.34 319.60 L244.47 320.41 L244.61 321.22 L244.75 322.03 L244.90 322.83 L245.05 323.64 L245.21 324.44 L245.37 325.24 L245.54 326.03 L245.71 326.83 L245.89 327.62 L246.07 328.41 L246.25 329.20 L246.45 329.98 L246.65 330.76 L246.85 331.54 L247.06 332.32 L247.28 333.09 L247.50 333.86 L247.73 334.63 L247.97 335.39 L248.21 336.15 L248.46 336.91 L248.71 337.66 L248.98 338.41 L249.24 339.15 L249.52 339.90 L249.81 340.63 L250.10 341.37 L250.40 342.10 L250.71 342.82 L251.02 343.54 L251.34 344.26 L251.68 344.97 L252.02 345.68 L252.36 346.38 L252.72 347.08 L253.09 347.77 L253.46 348.46 L253.84 349.14 L254.23 349.82 L254.64 350.49 L255.05 351.16 L255.47 351.82 L255.90 352.48 L256.33 353.13 L256.78 353.78 L257.24 354.42 L257.70 355.05 L258.18 355.68 L258.66 356.30 L259.15 356.92 L259.65 357.53 L260.15 358.13 L260.67 358.73 L261.19 359.32 L261.73 359.91 L262.27 360.49 L262.81 361.06 L263.37 361.63 L263.93 362.19 L264.50 362.74 L265.08 363.29 L265.66 363.83 L266.26 364.36 L266.86 364.89 L267.46 365.41 L268.08 365.92 L268.70 366.43 L269.32 366.93 L269.96 367.42 L270.60 367.91 L271.24 368.38 L271.90 368.85 L272.55 369.31 L273.22 369.77 L273.89 370.22 L274.57 370.66 L275.25 371.09 L275.94 371.51 L276.63 371.93 L277.33 372.34 L278.04 372.74 L278.75 373.13 L279.47 373.52 L280.19 373.89 L280.91 374.26 L281.64 374.62 L282.38 374.97 L283.12 375.31 L283.87 375.65 L284.61 375.98 L285.37 376.30 L286.12 376.61 L286.88 376.91 L287.65 377.21 L288.41 377.51 L289.18 377.79 L289.96 378.07 L290.73 378.34 L291.51 378.61 L292.28 378.87 L293.06 379.13 L293.84 379.38 L294.63 379.62 L295.41 379.86 L296.19 380.10 L296.98 380.33 L297.76 380.56 L298.55 380.78 L299.33 381.00 L300.12 381.21 L300.90 381.43 L301.68 381.64 L302.46 381.84 L303.24 382.05 L304.02 382.25 L304.80 382.44 L305.57 382.64 L306.34 382.83 L307.11 383.03 L307.88 383.22 L308.64 383.41 L309.40 383.60" stroke="#ff1c1c" stroke-width="1.4" fill="none"/>
<path d="M49.20 443.40 L49.39 442.62 L49.59 441.83 L49.78 441.03 L49.98 440.23 L50.18 439.42 L50.38 438.61 L50.59 437.79 L50.81 436.98 L51.03 436.16 L51.27 435.35 L51.51 434.53 L51.77 433.73 L52.05 432.93 L52.34 432.13 L52.64 431.35 L52.96 430.58 L53.31 429.82 L53.67 429.07 L54.05 428.33 L54.46 427.61 L54.89 426.91 L55.35 426.23 L55.84 425.57 L56.35 424.93 L56.90 424.31 L57.47 423.72 L58.08 423.15 L58.72 422.61 L59.40 422.10 M59.40 422.10 L59.98 421.56 L60.57 421.04 L61.18 420.54 L61.81 420.05 L62.46 419.58 L63.11 419.13 L63.78 418.68 L64.46 418.25 L65.15 417.82 L65.85 417.40 L66.55 416.99 L67.26 416.59 L67.97 416.19 L68.69 415.79 L69.41 415.40 L70.13 415.00 L70.85 414.61 L71.56 414.21 L72.28 413.81 L72.98 413.40 L73.69 412.99 L74.38 412.57 L75.07 412.14 L75.74 411.70 L76.41 411.24 L77.06 410.78 L77.70 410.30 L78.32 409.81 L78.94 409.30 L79.54 408.79 L80.13 408.26 L80.71 407.72 L81.28 407.17 L81.84 406.61 L82.39 406.04 L82.93 405.46 L83.46 404.87 L83.98 404.28 L84.50 403.67 L85.01 403.06 L85.51 402.44 L86.00 401.82 L86.49 401.19 L86.97 400.55 L87.45 399.91 L87.93 399.27 L88.39 398.62 L88.86 397.97 L89.32 397.31 L89.78 396.65 L90.24 396.00 L90.70 395.34 L91.15 394.68 L91.60 394.01 L92.06 393.35 L92.51 392.69 L92.95 392.02 L93.40 391.36 L93.85 390.69 L94.29 390.02 L94.73 389.36 L95.18 388.69 L95.62 388.02 L96.05 387.35 L96.49 386.68 L96.93 386.00 L97.36 385.33 L97.80 384.66 L98.23 383.98 L98.66 383.30 L99.09 382.63 L99.52 381.95 L99.94 381.27 L100.37 380.59 L100.79 379.91 L101.22 379.23 L101.64 378.55 L102.06 377.87 L102.48 377.18 L102.90 376.50 L103.32 375.81 L103.74 375.13 L104.16 374.44 L104.57 373.76 L104.99 373.07 L105.41 372.39 L105.83 371.71 L106.26 371.03 L106.68 370.35 L107.11 369.67 L107.54 368.99 L107.97 368.31 L108.40 367.64 L108.84 366.97 L109.28 366.30 L109.73 365.63 L110.17 364.97 L110.63 364.31 L111.09 363.65 L111.55 363.00 L112.01 362.35 L112.49 361.70 L112.96 361.06 L113.44 360.41 L113.92 359.77 L114.41 359.14 L114.90 358.50 L115.39 357.87 L115.89 357.24 L116.39 356.61 L116.89 355.99 L117.40 355.37 L117.91 354.74 L118.42 354.13 L118.93 353.51 L119.45 352.89 L119.97 352.28 L120.49 351.67 L121.01 351.06 L121.54 350.45 L122.07 349.84 L122.60 349.24 L123.13 348.63 L123.67 348.03 L124.20 347.43 L124.74 346.83 L125.28 346.23 L125.82 345.63 L126.36 345.03 L126.90 344.44 L127.44 343.84 L127.98 343.25 L128.53 342.65 L129.07 342.06 L129.62 341.46 L130.17 340.87 L130.71 340.28 L131.26 339.69 L131.80 339.09 L132.35 338.50 L132.90 337.91 L133.44 337.32 L133.99 336.72 L134.53 336.13 L135.08 335.54 L135.62 334.94 L136.17 334.35 L136.71 333.76 L137.25 333.16 L137.79 332.57 L138.33 331.97 L138.87 331.37 L139.40 330.77 L139.94 330.18 L140.47 329.58 L141.00 328.97 L141.53 328.37 L142.05 327.77 L142.58 327.16 L143.10 326.56 L143.62 325.95 L144.14 325.34 L144.66 324.73 L145.17 324.12 L145.68 323.50 L146.18 322.89 L146.69 322.27 L147.19 321.65 L147.69 321.03 L148.18 320.40 L148.67 319.78 L149.16 319.15 L149.64 318.52 L150.12 317.88 L150.60 317.25 L151.07 316.61 L151.54 315.97 L152.00 315.32 L152.46 314.68 L152.92 314.03 L153.37 313.37 L153.81 312.72 L154.25 312.06 L154.69 311.40 L155.12 310.73 L155.55 310.06 L155.97 309.39 L156.38 308.72 L156.79 308.04 L157.20 307.36 L157.60 306.67 L157.99 305.98 L158.38 305.29 L158.76 304.59 L159.13 303.89 L159.50 303.18 L159.87 302.47 L160.23 301.76 L160.59 301.04 L160.94 300.32 L161.29 299.59 L161.63 298.87 L161.97 298.13 L162.31 297.40 L162.64 296.65 L162.98 295.91 L163.31 295.16 L163.64 294.41 L163.96 293.65 L164.29 292.89 L164.61 292.12 L164.94 291.35 L165.26 290.58 L165.59 289.80 L165.91 289.02 L166.24 288.25 L166.59 287.49 L166.97 286.74 L167.37 286.02 L167.81 285.34 L168.29 284.70 L168.83 284.10 L169.42 283.57 L170.08 283.10 L170.76 282.71 L171.46 282.41 L172.15 282.22 L172.81 282.16 L173.41 282.23 L173.96 282.42 L174.45 282.73 L174.90 283.15 L175.31 283.67 L175.67 284.27 L176.00 284.95 L176.29 285.69 L176.56 286.48 L176.80 287.32 L177.01 288.19 L177.21 289.09 L177.39 290.00 L177.56 290.91 L177.72 291.81 L177.88 292.70 L178.03 293.57 L178.18 294.43 L178.32 295.27 L178.46 296.10 L178.59 296.92 L178.72 297.74 L178.85 298.54 L178.97 299.34 L179.09 300.13 L179.20 300.91 L179.32 301.69 L179.43 302.47 L179.54 303.25 L179.65 304.03 L179.75 304.81 L179.86 305.59 L179.96 306.37 L180.06 307.15 L180.16 307.93 L180.26 308.71 L180.36 309.49 L180.46 310.27 L180.55 311.06 L180.64 311.84 L180.74 312.63 L180.83 313.41 L180.91 314.20 L181.00 314.98 L181.09 315.77 L181.18 316.56 L181.26 317.35 L181.34 318.14 L181.43 318.93 L181.51 319.71 L181.59 320.51 L181.67 321.30 L181.74 322.09 L181.82 322.88 L181.90 323.67 L181.97 324.46 L182.05 325.26 L182.12 326.05 L182.20 326.85 L182.27 327.64 L182.34 328.43 L182.41 329.23 L182.48 330.03 L182.55 330.82 L182.62 331.62 L182.69 332.42 L182.76 333.21 L182.83 334.01 L182.90 334.81 L182.96 335.61 L183.03 336.40 L183.10 337.20 L183.16 338.00 L183.23 338.80 L183.30 339.60 L183.36 340.40 L183.43 341.20 L183.49 342.00 L183.56 342.80 L183.62 343.60 L183.69 344.40 L183.75 345.20 L183.82 346.01 L183.88 346.81 L183.95 347.61 L184.01 348.41 L184.08 349.21 L184.14 350.02 L184.21 350.82 L184.28 351.62 L184.34 352.42 L184.41 353.22 L184.47 354.03 L184.54 354.83 L184.61 355.63 L184.68 356.44 L184.75 357.24 L184.82 358.04 L184.88 358.84 L184.95 359.65 L185.03 360.45 L185.10 361.25 L185.17 362.05 L185.24 362.86 L185.31 363.66 L185.39 364.46 L185.46 365.27 L185.54 366.07 L185.62 366.87 L185.69 367.67 L185.77 368.47 L185.85 369.28 L185.93 370.08 L186.01 370.88 L186.09 371.68 L186.18 372.48 L186.26 373.29 L186.35 374.09 L186.43 374.89 L186.52 375.69 L186.61 376.49 L186.70 377.29 L186.79 378.09 L186.88 378.89 L186.98 379.69 L187.07 380.49 L187.17 381.29 L187.27 382.09 L187.37 382.88 L187.47 383.68 L187.57 384.48 L187.68 385.28 L187.78 386.07 L187.89 386.87 L188.00 387.67 L188.11 388.46 L188.23 389.26 L188.34 390.05 L188.46 390.85 L188.57 391.64 L188.69 392.44 L188.82 393.23 L188.94 394.03 L189.07 394.82 L189.19 395.61 L189.32 396.40 L189.45 397.19 L189.59 397.98 L189.72 398.77 L189.86 399.56 L190.00 400.35 L190.15 401.14 L190.29 401.93 L190.44 402.72 L190.59 403.51 L190.74 404.29 L190.89 405.08 L191.05 405.86 L191.21 406.65 L191.37 407.43 L191.53 408.22 L191.70 409.00 L191.87 409.78 L192.04 410.56 L192.21 411.34 L192.39 412.12 L192.57 412.90 L192.75 413.68 L192.93 414.46 L193.12 415.24 L193.31 416.01 L193.51 416.79 L193.70 417.57 L193.90 418.34 L194.10 419.11 L194.31 419.89 L194.52 420.66 L194.73 421.43 L194.94 422.20 L195.16 422.97 L195.38 423.74 L195.60 424.51 L195.83 425.27 L196.06 426.04 L196.29 426.81 L196.53 427.57 L196.76 428.33 L197.01 429.10 L197.25 429.86 L197.50 430.62 L197.76 431.38 L198.01 432.14 L198.27 432.90 L198.54 433.65 L198.80 434.41 L199.07 435.16 L199.35 435.92 L199.63 436.67 L199.91 437.42 L200.19 438.17 L200.48 438.92 L200.78 439.67 L201.07 440.42 L201.37 441.17 L201.68 441.91 L201.99 442.66 L202.30 443.40 M238.30 443.40 L238.31 442.59 L238.32 441.78 L238.33 440.96 L238.34 440.15 L238.35 439.34 L238.36 438.53 L238.37 437.72 L238.38 436.92 L238.39 436.11 L238.40 435.30 L238.42 434.49 L238.43 433.68 L238.44 432.88 L238.45 432.07 L238.46 431.26 L238.48 430.46 L238.49 429.65 L238.50 428.85 L238.51 428.04 L238.53 427.24 L238.54 426.43 L238.55 425.63 L238.57 424.82 L238.58 424.02 L238.60 423.22 L238.61 422.41 L238.62 421.61 L238.64 420.81 L238.65 420.00 L238.67 419.20 L238.68 418.40 L238.70 417.60 L238.72 416.80 L238.73 416.00 L238.75 415.19 L238.76 414.39 L238.78 413.59 L238.80 412.79 L238.81 411.99 L238.83 411.19 L238.85 410.39 L238.87 409.59 L238.88 408.79 L238.90 407.99 L238.92 407.19 L238.94 406.39 L238.96 405.59 L238.97 404.79 L238.99 403.99 L239.01 403.19 L239.03 402.39 L239.05 401.58 L239.07 400.78 L239.09 399.98 L239.11 399.18 L239.13 398.38 L239.15 397.58 L239.17 396.78 L239.19 395.98 L239.21 395.18 L239.23 394.38 L239.25 393.58 L239.28 392.78 L239.30 391.98 L239.32 391.18 L239.34 390.38 L239.36 389.57 L239.39 388.77 L239.41 387.97 L239.43 387.17 L239.45 386.37 L239.48 385.57 L239.50 384.76 L239.52 383.96 L239.55 383.16 L239.57 382.35 L239.60 381.55 L239.62 380.75 L239.65 379.94 L239.67 379.14 L239.69 378.33 L239.72 377.53 L239.75 376.72 L239.77 375.92 L239.80 375.11 L239.82 374.31 L239.85 373.50 L239.87 372.69 L239.90 371.89 L239.93 371.08 L239.96 370.27 L239.98 369.46 L240.01 368.65 L240.04 367.84 L240.06 367.03 L240.09 366.22 L240.12 365.41 L240.15 364.60 L240.18 363.79 L240.21 362.98 L240.23 362.17 L240.26 361.36 L240.29 360.54 L240.32 359.73 L240.35 358.91 L240.38 358.10 L240.41 357.28 L240.44 356.47 L240.47 355.65 L240.50 354.83 L240.53 354.02 L240.57 353.20 L240.61 352.38 L240.65 351.56 L240.71 350.74 L240.79 349.93 L240.87 349.11 L240.98 348.29 L241.12 347.48 L241.27 346.66 L241.46 345.85 L241.67 345.04 L241.93 344.23 L242.21 343.47 L242.53 342.76 L242.88 342.14 L243.26 341.63 L243.68 341.26 L244.14 341.06 L244.62 341.04 L245.12 341.18 L245.62 341.46 L246.10 341.85 L246.55 342.32 L246.98 342.87 L247.38 343.49 L247.76 344.16 L248.12 344.88 L248.47 345.64 L248.82 346.42 L249.15 347.22 L249.49 348.03 L249.83 348.84 L250.18 349.64 L250.53 350.44 L250.89 351.23 L251.25 352.01 L251.62 352.79 L251.99 353.56 L252.36 354.32 L252.75 355.08 L253.13 355.83 L253.53 356.58 L253.92 357.32 L254.32 358.05 L254.73 358.78 L255.14 359.50 L255.56 360.22 L255.98 360.92 L256.41 361.63 L256.84 362.33 L257.28 363.02 L257.73 363.70 L258.17 364.38 L258.63 365.06 L259.08 365.72 L259.55 366.39 L260.01 367.04 L260.49 367.69 L260.96 368.34 L261.45 368.98 L261.93 369.61 L262.43 370.24 L262.92 370.87 L263.42 371.49 L263.93 372.10 L264.44 372.71 L264.96 373.31 L265.48 373.91 L266.01 374.50 L266.54 375.08 L267.08 375.67 L267.62 376.24 L268.16 376.81 L268.71 377.38 L269.27 377.94 L269.83 378.50 L270.40 379.05 L270.97 379.60 L271.54 380.14 L272.12 380.67 L272.70 381.21 L273.29 381.73 L273.89 382.26 L274.49 382.77 L275.09 383.29 L275.70 383.80 L276.31 384.30 L276.93 384.80 L277.55 385.30 L278.18 385.79 L278.81 386.27 L279.44 386.76 L280.09 387.23 L280.73 387.71 L281.38 388.18 L282.04 388.64 L282.70 389.10 L283.36 389.56 L284.03 390.01 L284.70 390.46 L285.37 390.90 L286.05 391.35 L286.73 391.78 L287.42 392.22 L288.10 392.65 L288.79 393.07 L289.49 393.49 L290.18 393.91 L290.88 394.33 L291.58 394.74 L292.29 395.15 L292.99 395.55 L293.70 395.96 L294.41 396.36 L295.12 396.75 L295.83 397.14 L296.54 397.53 L297.25 397.92 L297.97 398.31 L298.68 398.69 L299.40 399.06 L300.11 399.44 L300.83 399.81 L301.55 400.18 L302.27 400.55 L302.98 400.92 L303.70 401.28 L304.41 401.64 L305.13 402.00 L305.84 402.35 L306.56 402.71 L307.27 403.06 L307.98 403.41 L308.69 403.75 L309.40 404.10" stroke="#111" stroke-width="1.4" fill="none"/>
<rect x="49.20" y="257.30" width="260.20" height="186.10" stroke="#000" stroke-width="1.4" fill="none"/>
<path d="M127.4 300.2H152" stroke="#000" stroke-width="1.1"/><path d="M156.3 300.2 L149.5 298.5 L149.5 301.9Z" fill="#000"/>
<path d="M263.9 294.5 L246.3 309" stroke="#000" stroke-width="1.2"/>
<text transform="translate(44.00 447.80) scale(0.890 1)" font-size="12.3" text-anchor="end">0</text>
<text transform="translate(44.00 410.58) scale(0.890 1)" font-size="12.3" text-anchor="end">0.1</text>
<text transform="translate(44.00 373.36) scale(0.890 1)" font-size="12.3" text-anchor="end">0.2</text>
<text transform="translate(44.00 336.14) scale(0.890 1)" font-size="12.3" text-anchor="end">0.3</text>
<text transform="translate(44.00 298.92) scale(0.890 1)" font-size="12.3" text-anchor="end">0.4</text>
<text transform="translate(44.00 261.70) scale(0.890 1)" font-size="12.3" text-anchor="end">0.5</text>
<text transform="translate(49.40 459.00) scale(0.890 1)" font-size="12.3" text-anchor="middle">0</text>
<text transform="translate(101.44 459.00) scale(0.890 1)" font-size="12.3" text-anchor="middle">0.2</text>
<text transform="translate(153.48 459.00) scale(0.890 1)" font-size="12.3" text-anchor="middle">0.4</text>
<text transform="translate(205.52 459.00) scale(0.890 1)" font-size="12.3" text-anchor="middle">0.6</text>
<text transform="translate(257.56 459.00) scale(0.890 1)" font-size="12.3" text-anchor="middle">0.8</text>
<text transform="translate(309.10 459.00) scale(0.890 1)" font-size="12.3" text-anchor="middle">1</text>
<text transform="translate(315.50 447.80) scale(0.890 1)" font-size="12.3" text-anchor="start">-60</text>
<text transform="translate(315.50 429.19) scale(0.890 1)" font-size="12.3" text-anchor="start">-40</text>
<text transform="translate(315.50 410.58) scale(0.890 1)" font-size="12.3" text-anchor="start">-20</text>
<text transform="translate(315.50 391.97) scale(0.890 1)" font-size="12.3" text-anchor="start">0</text>
<text transform="translate(315.50 373.36) scale(0.890 1)" font-size="12.3" text-anchor="start">20</text>
<text transform="translate(315.50 354.75) scale(0.890 1)" font-size="12.3" text-anchor="start">40</text>
<text transform="translate(315.50 336.14) scale(0.890 1)" font-size="12.3" text-anchor="start">60</text>
<text transform="translate(315.50 317.53) scale(0.890 1)" font-size="12.3" text-anchor="start">80</text>
<text transform="translate(315.50 298.92) scale(0.890 1)" font-size="12.3" text-anchor="start">100</text>
<text transform="translate(315.50 280.31) scale(0.890 1)" font-size="12.3" text-anchor="start">120</text>
<text transform="translate(315.50 261.70) scale(0.890 1)" font-size="12.3" text-anchor="start">140</text>
<text transform="translate(22.90 350.70) rotate(-90)" font-size="12.2" text-anchor="middle" textLength="144.50" lengthAdjust="spacing">Coupling&#160; Factor&#160; <tspan font-style="italic">K</tspan><tspan font-size="8.5" dy="-5.5">2</tspan><tspan dy="5.5">&#160; [%]</tspan></text>
<text transform="translate(345.80 351.10) rotate(-90)" font-size="12.2" text-anchor="middle" textLength="85.00" lengthAdjust="spacing">TCF&#160; [ppm/&#176;C]</text>
<text transform="translate(54.10 470.90)" font-size="12.2" text-anchor="start" textLength="250.50" lengthAdjust="spacing">Normalized&#160; Qz&#160; Thin-Plate&#160; Thickness&#160; <tspan font-style="italic">h/&#955;</tspan></text>
<text transform="translate(63.10 274.80)" font-size="11.5" text-anchor="start">(b)</text>
<text transform="translate(114.50 303.50)" font-size="11" text-anchor="start"><tspan font-style="italic">K</tspan><tspan font-size="7" dy="-5.6">2</tspan></text>
<text transform="translate(262.30 289.00)" font-size="10" text-anchor="start">TCF</text>
</svg></body></html>
